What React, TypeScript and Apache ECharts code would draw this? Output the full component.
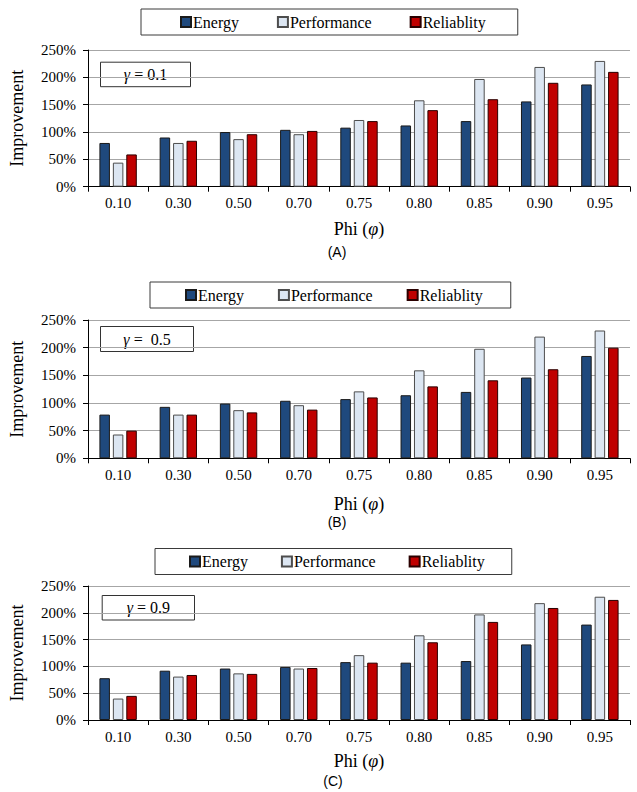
import React, { useEffect, useRef } from "react";
import * as echarts from "echarts";

const categories = ["0.10", "0.30", "0.50", "0.70", "0.75", "0.80", "0.85", "0.90", "0.95"];
const seriesNames = ["Energy", "Performance", "Reliablity"];
const yTicks = [0, 50, 100, 150, 200, 250];

// Panel A (gamma = 0.1)
const energyA = [80, 90, 100, 104, 108, 112, 120, 156, 187];
const perfA = [44, 80, 87, 96, 122, 158, 197, 219, 230];
const relA = [59, 84, 96, 102, 120, 140, 160, 190, 210];
// Panel B (gamma = 0.5)
const energyB = [79, 93, 99, 104, 107, 114, 120, 146, 185];
const perfB = [43, 79, 87, 96, 121, 159, 198, 220, 231];
const relB = [50, 79, 83, 88, 110, 130, 141, 161, 200];
// Panel C (gamma = 0.9)
const energyC = [78, 92, 96, 99, 108, 107, 110, 141, 178];
const perfC = [40, 81, 87, 96, 121, 158, 197, 218, 230];
const relC = [45, 84, 86, 97, 107, 145, 183, 209, 224];

const gammaTexts = ["{i|γ} = 0.1", "{i|γ} =  0.5", "{i|γ} = 0.9"];
const panelTags = ["(A)", "(B)", "(C)"];

const SERIF = "'Liberation Serif', serif";
const SANS = "'Liberation Sans', sans-serif";

const seriesColors = ["#1F497D", "#DCE6F2", "#C00000"];
const seriesBorders = ["#1a1a1a", "#4d4d4d", "#2a0000"];

const panelData = [
  [energyA, perfA, relA],
  [energyB, perfB, relB],
  [energyC, perfC, relC],
];

const layout = [
  { top: 50, height: 136.7, legendLeft: 141, legendTop: 9, pad: [5, 32, 5, 39], gap: 38, nameGap: 33,
    box: [100, 61.7, 90, 24.5], tagY: 252, tagX: 337 },
  { top: 320, height: 138.3, legendLeft: 150, legendTop: 282, pad: [5, 28, 5, 35], gap: 34, nameGap: 37,
    box: [100, 326, 93, 25], tagY: 522, tagX: 337 },
  { top: 586, height: 134, legendLeft: 155, legendTop: 548.5, pad: [5, 27, 5, 34], gap: 33, nameGap: 32,
    box: [101.7, 595, 92.3, 24.5], tagY: 781, tagX: 333 },
];

export default function App() {
  const ref = useRef<HTMLDivElement>(null);
  useEffect(() => {
    if (!ref.current) return;
    const chart = echarts.init(ref.current, null, { renderer: "svg" });

    const grids: any[] = [];
    const xAxes: any[] = [];
    const yAxes: any[] = [];
    const series: any[] = [];
    const legends: any[] = [];
    const graphics: any[] = [];

    layout.forEach((p, i) => {
      grids.push({ left: 87, right: 7, top: p.top, height: p.height, containLabel: false });
      xAxes.push({
        type: "category",
        gridIndex: i,
        data: categories,
        boundaryGap: true,
        axisLine: { show: true, lineStyle: { color: "#000", width: 1 } },
        axisTick: { show: true, length: 5, lineStyle: { color: "#000" } },
        axisLabel: { color: "#000", fontFamily: SERIF, fontSize: 15, margin: 9 },
        name: "Phi ({i|φ})",
        nameLocation: "middle",
        nameGap: p.nameGap,
        nameTextStyle: {
          color: "#000",
          fontFamily: SERIF,
          fontSize: 18,
          rich: { i: { fontStyle: "italic", fontFamily: SERIF, fontSize: 18, color: "#000" } },
        },
      });
      yAxes.push({
        type: "value",
        gridIndex: i,
        min: yTicks[0],
        max: yTicks[yTicks.length - 1],
        interval: 50,
        axisLine: { show: true, lineStyle: { color: "#000", width: 1 } },
        axisTick: { show: true, length: 5, lineStyle: { color: "#000" } },
        axisLabel: { color: "#000", fontFamily: SERIF, fontSize: 15, margin: 12, formatter: "{value}%" },
        splitLine: { show: true, lineStyle: { color: "#a6a6a6", width: 1 } },
        name: "Improvement",
        nameLocation: "middle",
        nameGap: 62,
        nameTextStyle: { color: "#000", fontFamily: SERIF, fontSize: 18 },
      });
      panelData[i].forEach((vals, s) => {
        series.push({
          type: "bar",
          name: seriesNames[s],
          xAxisIndex: i,
          yAxisIndex: i,
          data: vals,
          barWidth: 10.5,
          barGap: "28%",
          itemStyle: { color: seriesColors[s], borderColor: seriesBorders[s], borderWidth: 1 },
        });
      });
      legends.push({
        left: p.legendLeft,
        top: p.legendTop,
        orient: "horizontal",
        padding: p.pad,
        itemGap: p.gap,
        itemWidth: 10,
        itemHeight: 10,
        icon: "rect",
        borderColor: "#3a3a3a",
        borderWidth: 1,
        backgroundColor: "#fff",
        selectedMode: false,
        textStyle: { color: "#000", fontFamily: SERIF, fontSize: 16, padding: [0, 0, 0, -3] },
        data: seriesNames,
      });
      const [bx, by, bw, bh] = p.box;
      graphics.push({
        type: "group",
        left: bx,
        top: by,
        z: 100,
        children: [
          { type: "rect", shape: { x: 0, y: 0, width: bw, height: bh },
            style: { fill: "#fff", stroke: "#333", lineWidth: 1 } },
          { type: "text", x: bw / 2, y: bh / 2,
            style: {
              text: gammaTexts[i],
              fill: "#000",
              fontFamily: SERIF,
              fontSize: 16,
              align: "center",
              verticalAlign: "middle",
              rich: { i: { fontStyle: "italic", fontFamily: SERIF, fontSize: 16, fill: "#000" } },
            } },
        ],
      });
      graphics.push({
        type: "text",
        x: p.tagX,
        y: p.tagY,
        z: 100,
        style: {
          text: panelTags[i],
          fill: "#000",
          fontFamily: SANS,
          fontSize: 14,
          align: "center",
          verticalAlign: "middle",
        },
      });
    });

    chart.setOption({
      animation: false,
      backgroundColor: "#fff",
      grid: grids,
      xAxis: xAxes,
      yAxis: yAxes,
      series,
      legend: legends,
      graphic: graphics,
    });
    return () => chart.dispose();
  }, []);

  return (
    <div
      ref={ref}
      style={{ position: "fixed", left: 0, top: 0, width: 637, height: 792, background: "#fff" }}
    />
  );
}
